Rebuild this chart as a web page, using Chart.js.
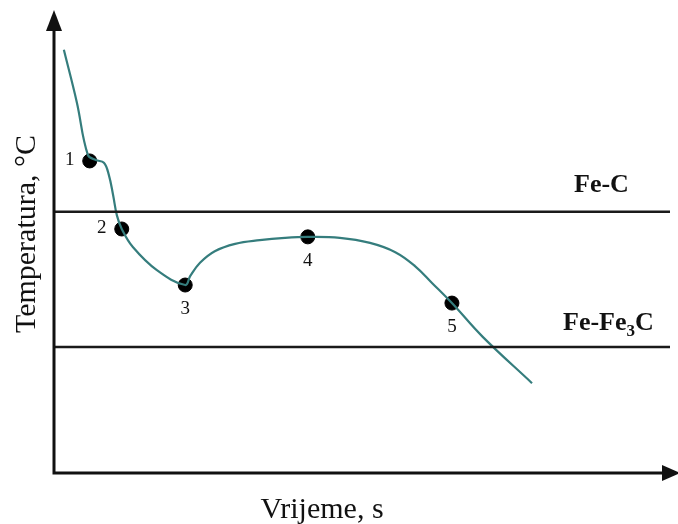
<!DOCTYPE html>
<html>
<head>
<meta charset="utf-8">
<script src="https://cdn.jsdelivr.net/npm/chart.js@4"></script>
<style>
  html, body { margin: 0; padding: 0; background: #fff; }
  #wrap { width: 678px; height: 524px; }
</style>
</head>
<body>
<div id="wrap"><canvas id="coolingChart"></canvas></div>
<script>
// cooling curve (time, temperature), arbitrary units 0..100
const curveX = [1.6, 3.7, 5.5, 6.8, 8.1, 8.9, 9.6, 10.2, 11.0, 12.8, 16.7, 21.3, 22.1, 23.7, 26.1, 29.4, 33.4, 37.5, 41.2, 46.4, 51.3, 55.4, 58.6, 61.4, 64.6, 69.6, 77.6];
const curveY = [91.4, 80.1, 68.7, 67.6, 67.0, 64.4, 60.0, 55.7, 52.7, 48.8, 43.8, 40.6, 42.5, 45.4, 47.9, 49.5, 50.3, 50.8, 51.0, 50.8, 49.7, 47.7, 44.7, 41.0, 36.7, 29.4, 19.4];

// marked points 1..5
const pointX = [5.8, 11.0, 21.3, 41.2, 64.6];
const pointY = [67.4, 52.7, 40.6, 51.0, 36.7];
const pointLabels = ['1', '2', '3', '4', '5'];

// equilibrium lines
const lineLevels = [56.4, 27.2];
const lineNames = [['Fe-C'], ['Fe-Fe', '3', 'C']];

const xTitle = 'Vrijeme, s';
const yTitle = 'Temperatura, °C';

const serif = '"Liberation Serif", "DejaVu Serif", serif';

const axesPlugin = {
    id: 'axesPlugin',
    afterDatasetsDraw(chart) {
        const ctx = chart.ctx;
        const a = chart.chartArea;
        const xs = chart.scales.x, ys = chart.scales.y;
        ctx.save();
        // axes
        ctx.strokeStyle = '#111';
        ctx.fillStyle = '#111';
        ctx.lineWidth = 3;
        ctx.beginPath();
        ctx.moveTo(a.left, a.top + 16);
        ctx.lineTo(a.left, a.bottom);
        ctx.lineTo(a.right - 4, a.bottom);
        ctx.stroke();
        // arrow heads
        ctx.beginPath();
        ctx.moveTo(a.left, a.top);
        ctx.lineTo(a.left - 8, a.top + 21);
        ctx.lineTo(a.left + 8, a.top + 21);
        ctx.closePath();
        ctx.fill();
        ctx.beginPath();
        ctx.moveTo(a.right + 10, a.bottom);
        ctx.lineTo(a.right - 8, a.bottom - 8);
        ctx.lineTo(a.right - 8, a.bottom + 8);
        ctx.closePath();
        ctx.fill();

        // point labels
        ctx.font = '19px ' + serif;
        ctx.textAlign = 'center';
        ctx.textBaseline = 'middle';
        const placement = ['left', 'left', 'below', 'below', 'below'];
        pointLabels.forEach((t, i) => {
            const px = xs.getPixelForValue(pointX[i]);
            const py = ys.getPixelForValue(pointY[i]);
            if (placement[i] === 'left') ctx.fillText(t, px - 20, py - 1);
            else ctx.fillText(t, px, py + 24);
        });

        // line names
        ctx.textAlign = 'left';
        ctx.textBaseline = 'alphabetic';
        const nameX = [574, 563];
        const nameGap = [20, 17];
        lineNames.forEach((parts, i) => {
            let x = nameX[i];
            const y = ys.getPixelForValue(lineLevels[i]) - nameGap[i];
            parts.forEach((p, j) => {
                if (parts.length === 3 && j === 1) {
                    ctx.font = 'bold 17px ' + serif;
                    ctx.fillText(p, x, y + 6);
                } else {
                    ctx.font = 'bold 26px ' + serif;
                    ctx.fillText(p, x, y);
                }
                x += ctx.measureText(p).width;
            });
        });

        // axis titles
        ctx.font = '30px ' + serif;
        ctx.textAlign = 'center';
        ctx.textBaseline = 'alphabetic';
        ctx.fillText(xTitle, 322, a.bottom + 45);
        ctx.translate(35, 234);
        ctx.rotate(-Math.PI / 2);
        ctx.fillText(yTitle, 0, 0);
        ctx.restore();
    }
};

const lineDatasets = lineLevels.map(v => ({
    data: [{ x: 0, y: v }, { x: 100, y: v }],
    showLine: true,
    borderColor: '#1a1a1a',
    borderWidth: 2.5,
    pointRadius: 0
}));

new Chart(document.getElementById('coolingChart'), {
    type: 'scatter',
    data: {
        datasets: [
            ...lineDatasets,
            {
                data: curveX.map((x, i) => ({ x: x, y: curveY[i] })),
                showLine: true,
                borderColor: '#357d7d',
                borderWidth: 2.2,
                pointRadius: 0,
                tension: 0.4
            },
            {
                data: pointX.map((x, i) => ({ x: x, y: pointY[i] })),
                backgroundColor: '#000',
                borderColor: '#000',
                pointRadius: 7,
                showLine: false
            }
        ]
    },
    options: {
        responsive: true,
        maintainAspectRatio: false,
        animation: false,
        layout: { padding: { left: 54, right: 8, top: 10, bottom: 51 } },
        plugins: { legend: { display: false }, tooltip: { enabled: false } },
        scales: {
            x: { type: 'linear', min: 0, max: 100, display: false },
            y: { type: 'linear', min: 0, max: 100, display: false }
        }
    },
    plugins: [axesPlugin]
});
</script>
</body>
</html>
